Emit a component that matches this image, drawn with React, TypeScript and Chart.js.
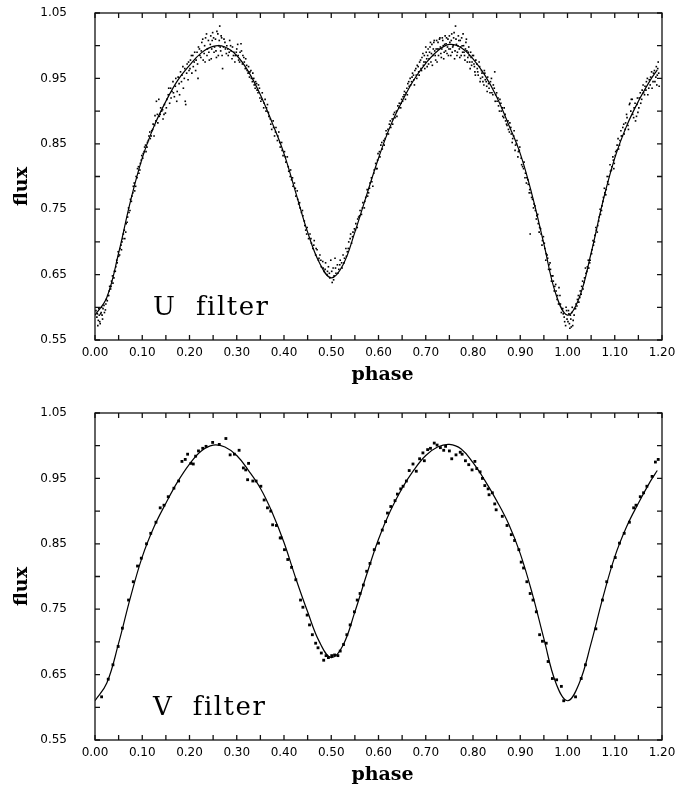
import React, { useEffect, useRef } from "react";
import { Chart, registerables } from "chart.js";

Chart.register(...registerables);

// ---------- axes ----------
const xLabelTicks = [0, 0.1, 0.2, 0.3, 0.4, 0.5, 0.6, 0.7, 0.8, 0.9, 1.0, 1.1, 1.2];
const yLabelTicks = [0.55, 0.65, 0.75, 0.85, 0.95, 1.05];
const xMarkTicks = [0, 0.05, 0.1, 0.15, 0.2, 0.25, 0.3, 0.35, 0.4, 0.45, 0.5, 0.55, 0.6, 0.65, 0.7, 0.75, 0.8, 0.85, 0.9, 0.95, 1.0, 1.05, 1.1, 1.15, 1.2];
const yMarkTicks = [0.55, 0.6, 0.65, 0.7, 0.75, 0.8, 0.85, 0.9, 0.95, 1.0, 1.05];

// ---------- fitted curves ----------
const curvePhase = [0.000, 0.025, 0.050, 0.075, 0.100, 0.125, 0.150, 0.175, 0.200, 0.225, 0.250, 0.275, 0.300, 0.325, 0.350, 0.375, 0.400, 0.425, 0.450, 0.475, 0.500, 0.525, 0.550, 0.575, 0.600, 0.625, 0.650, 0.675, 0.700, 0.725, 0.750, 0.775, 0.800, 0.825, 0.850, 0.875, 0.900, 0.925, 0.950, 0.975, 1.000, 1.025, 1.050, 1.075, 1.100, 1.125, 1.150, 1.175, 1.190];
const uCurve = [0.588, 0.615, 0.683, 0.762, 0.828, 0.877, 0.915, 0.947, 0.970, 0.989, 0.999, 0.998, 0.985, 0.960, 0.925, 0.882, 0.835, 0.775, 0.715, 0.668, 0.645, 0.665, 0.715, 0.772, 0.828, 0.877, 0.915, 0.948, 0.973, 0.992, 1.002, 0.997, 0.980, 0.955, 0.922, 0.880, 0.835, 0.772, 0.697, 0.621, 0.588, 0.615, 0.683, 0.762, 0.828, 0.877, 0.915, 0.947, 0.963];
const vCurve = [0.610, 0.637, 0.698, 0.768, 0.830, 0.876, 0.912, 0.945, 0.972, 0.992, 1.001, 0.998, 0.985, 0.962, 0.935, 0.898, 0.852, 0.797, 0.746, 0.700, 0.676, 0.695, 0.746, 0.803, 0.857, 0.900, 0.935, 0.963, 0.985, 0.998, 1.002, 0.995, 0.974, 0.947, 0.916, 0.881, 0.835, 0.775, 0.705, 0.638, 0.610, 0.637, 0.698, 0.768, 0.830, 0.876, 0.912, 0.945, 0.962];

// ---------- observations [phase, flux] ----------
const uObs = [
  [0.004, 0.585], [0.006, 0.572], [0.008, 0.598], [0.010, 0.578], [0.012, 0.590], [0.014, 0.600], [0.016, 0.582], [0.019, 0.603], [0.022, 0.596], [0.024, 0.612], [0.027, 0.618], [0.030, 0.625], [0.033, 0.628], [0.035, 0.640], [0.038, 0.637], [0.041, 0.655], [0.044, 0.662], [0.047, 0.668], [0.049, 0.685],
  [0.052, 0.680], [0.055, 0.695], [0.057, 0.700], [0.060, 0.712], [0.063, 0.705], [0.066, 0.728], [0.069, 0.738], [0.072, 0.745], [0.075, 0.765], [0.078, 0.770], [0.081, 0.785], [0.084, 0.778], [0.087, 0.800], [0.090, 0.812], [0.093, 0.805], [0.096, 0.820], [0.099, 0.832],
  [0.102, 0.835], [0.105, 0.845], [0.108, 0.838], [0.111, 0.852], [0.114, 0.862], [0.117, 0.858], [0.120, 0.870], [0.123, 0.880], [0.125, 0.862], [0.127, 0.893], [0.130, 0.915], [0.133, 0.882], [0.135, 0.918], [0.138, 0.895], [0.141, 0.900], [0.144, 0.888], [0.147, 0.910], [0.149, 0.897],
  [0.152, 0.918], [0.155, 0.925], [0.158, 0.912], [0.160, 0.935], [0.163, 0.930], [0.165, 0.945], [0.168, 0.922], [0.170, 0.938], [0.173, 0.915], [0.176, 0.952], [0.178, 0.942], [0.181, 0.960], [0.184, 0.955], [0.187, 0.935], [0.190, 0.965], [0.192, 0.910], [0.195, 0.972], [0.197, 0.948], [0.199, 0.962],
  [0.202, 0.978], [0.205, 0.958], [0.207, 0.985], [0.210, 0.975], [0.213, 0.962], [0.216, 0.990], [0.218, 0.950], [0.221, 0.995], [0.224, 0.982], [0.226, 1.005], [0.229, 0.978], [0.232, 1.000], [0.234, 1.012], [0.237, 0.985], [0.240, 1.008], [0.242, 0.978], [0.245, 1.015], [0.247, 0.995], [0.249, 1.020],
  [0.252, 0.990], [0.255, 1.010], [0.257, 0.982], [0.260, 1.018], [0.262, 1.000], [0.264, 1.030], [0.266, 0.992], [0.268, 1.012], [0.270, 0.965], [0.272, 0.998], [0.275, 1.005], [0.278, 0.988], [0.281, 0.995], [0.284, 0.990], [0.287, 1.000], [0.290, 0.980], [0.293, 0.985], [0.296, 0.975], [0.299, 0.990],
  [0.302, 1.002], [0.304, 0.978], [0.307, 0.990], [0.309, 1.003], [0.312, 0.972], [0.315, 0.982], [0.318, 0.965], [0.321, 0.970], [0.324, 0.958], [0.327, 0.952], [0.330, 0.962], [0.333, 0.945], [0.336, 0.950], [0.339, 0.935], [0.342, 0.942], [0.345, 0.928], [0.348, 0.935],
  [0.351, 0.915], [0.354, 0.928], [0.357, 0.905], [0.360, 0.918], [0.362, 0.900], [0.365, 0.910], [0.368, 0.892], [0.371, 0.888], [0.374, 0.872], [0.377, 0.885], [0.380, 0.862], [0.383, 0.875], [0.386, 0.855], [0.389, 0.868], [0.392, 0.845], [0.395, 0.852], [0.398, 0.832],
  [0.401, 0.838], [0.404, 0.822], [0.407, 0.830], [0.410, 0.808], [0.413, 0.800], [0.416, 0.795], [0.419, 0.785], [0.422, 0.790], [0.425, 0.770], [0.428, 0.778], [0.431, 0.758], [0.434, 0.752], [0.437, 0.745], [0.440, 0.740], [0.443, 0.732], [0.446, 0.718], [0.449, 0.722],
  [0.452, 0.705], [0.455, 0.712], [0.458, 0.698], [0.461, 0.690], [0.464, 0.702], [0.467, 0.680], [0.470, 0.688], [0.473, 0.672], [0.476, 0.680], [0.479, 0.662], [0.482, 0.670], [0.485, 0.655], [0.488, 0.668], [0.491, 0.650], [0.494, 0.662], [0.497, 0.645], [0.499, 0.672],
  [0.502, 0.638], [0.504, 0.660], [0.506, 0.648], [0.508, 0.675], [0.510, 0.652], [0.513, 0.665], [0.516, 0.658], [0.519, 0.672], [0.522, 0.668], [0.525, 0.680], [0.528, 0.675], [0.531, 0.690], [0.534, 0.685], [0.537, 0.700], [0.540, 0.705], [0.543, 0.698], [0.546, 0.715], [0.549, 0.720],
  [0.552, 0.728], [0.555, 0.722], [0.558, 0.738], [0.561, 0.748], [0.564, 0.742], [0.567, 0.760], [0.570, 0.752], [0.573, 0.768], [0.576, 0.780], [0.579, 0.775], [0.582, 0.790], [0.585, 0.798], [0.588, 0.785], [0.591, 0.810], [0.594, 0.820], [0.597, 0.812], [0.599, 0.835],
  [0.602, 0.838], [0.605, 0.848], [0.608, 0.842], [0.611, 0.855], [0.614, 0.858], [0.617, 0.865], [0.620, 0.872], [0.623, 0.880], [0.626, 0.875], [0.629, 0.888], [0.632, 0.895], [0.635, 0.890], [0.638, 0.900], [0.641, 0.908], [0.644, 0.912], [0.647, 0.905], [0.649, 0.918],
  [0.652, 0.922], [0.655, 0.930], [0.657, 0.918], [0.660, 0.935], [0.662, 0.942], [0.665, 0.938], [0.667, 0.950], [0.670, 0.945], [0.672, 0.958], [0.675, 0.948], [0.677, 0.962], [0.680, 0.955], [0.682, 0.970], [0.685, 0.960], [0.687, 0.975], [0.690, 0.965], [0.692, 0.982], [0.695, 0.970], [0.697, 0.985], [0.699, 0.975],
  [0.701, 0.990], [0.703, 0.968], [0.705, 0.995], [0.707, 0.980], [0.709, 0.998], [0.711, 0.975], [0.713, 1.002], [0.715, 0.985], [0.717, 1.005], [0.719, 0.992], [0.721, 0.978], [0.723, 1.008], [0.725, 0.995], [0.727, 0.985], [0.729, 1.010], [0.731, 0.998], [0.733, 0.982], [0.735, 1.012], [0.737, 1.000], [0.739, 0.990], [0.741, 1.015], [0.743, 1.003], [0.745, 0.988], [0.747, 1.010], [0.749, 0.995],
  [0.751, 1.005], [0.753, 0.985], [0.755, 1.018], [0.757, 0.998], [0.759, 1.012], [0.761, 0.980], [0.763, 1.030], [0.765, 1.002], [0.767, 0.990], [0.769, 1.015], [0.771, 0.995], [0.773, 1.008], [0.775, 0.985], [0.777, 1.000], [0.779, 1.018], [0.781, 0.990], [0.783, 0.978], [0.785, 1.005], [0.787, 0.992], [0.789, 0.982], [0.791, 0.998], [0.793, 0.975], [0.795, 0.990], [0.797, 0.970], [0.799, 0.985],
  [0.802, 0.972], [0.804, 0.960], [0.806, 0.978], [0.809, 0.965], [0.811, 0.955], [0.814, 0.968], [0.816, 0.950], [0.819, 0.958], [0.821, 0.945], [0.824, 0.962], [0.826, 0.948], [0.829, 0.938], [0.831, 0.952], [0.834, 0.935], [0.837, 0.945], [0.840, 0.928], [0.843, 0.940], [0.846, 0.960], [0.848, 0.925],
  [0.851, 0.915], [0.854, 0.908], [0.857, 0.918], [0.860, 0.900], [0.863, 0.892], [0.866, 0.905], [0.869, 0.885], [0.872, 0.878], [0.875, 0.872], [0.878, 0.882], [0.881, 0.865], [0.884, 0.858], [0.887, 0.870], [0.890, 0.848], [0.893, 0.855], [0.896, 0.838], [0.899, 0.845],
  [0.902, 0.828], [0.905, 0.815], [0.908, 0.822], [0.911, 0.805], [0.914, 0.798], [0.917, 0.788], [0.920, 0.780], [0.921, 0.712], [0.923, 0.775], [0.926, 0.765], [0.929, 0.758], [0.932, 0.748], [0.935, 0.740], [0.938, 0.728], [0.941, 0.722], [0.944, 0.712], [0.947, 0.702], [0.949, 0.708],
  [0.952, 0.690], [0.955, 0.682], [0.958, 0.675], [0.961, 0.665], [0.964, 0.658], [0.967, 0.648], [0.970, 0.640], [0.973, 0.632], [0.976, 0.625], [0.979, 0.618], [0.982, 0.630], [0.985, 0.605], [0.988, 0.598], [0.991, 0.590], [0.994, 0.578], [0.997, 0.600], [0.999, 0.582],
  [1.002, 0.595], [1.004, 0.575], [1.006, 0.588], [1.008, 0.570], [1.010, 0.600], [1.012, 0.580], [1.015, 0.598], [1.018, 0.605], [1.021, 0.612], [1.024, 0.608], [1.027, 0.625], [1.030, 0.632], [1.033, 0.628], [1.036, 0.645], [1.039, 0.652], [1.042, 0.662], [1.045, 0.660], [1.048, 0.672],
  [1.052, 0.688], [1.055, 0.695], [1.058, 0.710], [1.061, 0.718], [1.064, 0.725], [1.067, 0.738], [1.070, 0.742], [1.073, 0.755], [1.076, 0.768], [1.079, 0.775], [1.082, 0.780], [1.085, 0.792], [1.088, 0.800], [1.091, 0.808], [1.094, 0.815], [1.097, 0.825], [1.099, 0.820],
  [1.102, 0.838], [1.105, 0.848], [1.108, 0.842], [1.111, 0.855], [1.114, 0.862], [1.117, 0.875], [1.120, 0.865], [1.123, 0.882], [1.126, 0.890], [1.129, 0.872], [1.132, 0.912], [1.135, 0.918], [1.138, 0.895], [1.141, 0.905], [1.144, 0.885], [1.147, 0.910], [1.149, 0.898],
  [1.152, 0.920], [1.155, 0.912], [1.158, 0.932], [1.161, 0.928], [1.164, 0.938], [1.167, 0.945], [1.170, 0.925], [1.173, 0.948], [1.176, 0.952], [1.179, 0.935], [1.182, 0.958], [1.185, 0.945], [1.188, 0.968], [1.190, 0.955], [1.192, 0.975], [1.194, 0.938],
  // second night
  [0.002, 0.595], [0.005, 0.590], [0.007, 0.580], [0.009, 0.588], [0.011, 0.575], [0.013, 0.592], [0.015, 0.588], [0.017, 0.598], [0.020, 0.592], [0.023, 0.605], [0.026, 0.610], [0.029, 0.618], [0.031, 0.632], [0.034, 0.632], [0.037, 0.648], [0.040, 0.645], [0.043, 0.655], [0.046, 0.672], [0.050, 0.678], [0.053, 0.690], [0.056, 0.688], [0.059, 0.705], [0.062, 0.718], [0.065, 0.715], [0.068, 0.730], [0.071, 0.752], [0.074, 0.748], [0.077, 0.762], [0.080, 0.775], [0.083, 0.790], [0.086, 0.785], [0.089, 0.798], [0.092, 0.815], [0.095, 0.810], [0.098, 0.825],
  [0.101, 0.828], [0.104, 0.838], [0.107, 0.848], [0.110, 0.845], [0.113, 0.855], [0.116, 0.868], [0.119, 0.862], [0.122, 0.872], [0.126, 0.878], [0.129, 0.885], [0.132, 0.895], [0.136, 0.892], [0.139, 0.905], [0.143, 0.902], [0.146, 0.895],
  [0.151, 0.905], [0.156, 0.935], [0.161, 0.920], [0.166, 0.928], [0.171, 0.950], [0.174, 0.930], [0.179, 0.925], [0.183, 0.945], [0.186, 0.968], [0.189, 0.950], [0.191, 0.915], [0.194, 0.958], [0.198, 0.975], [0.201, 0.965], [0.204, 0.985], [0.208, 0.968], [0.211, 0.990], [0.214, 0.978], [0.217, 0.972], [0.219, 0.998], [0.222, 0.985], [0.225, 0.992], [0.228, 1.010], [0.231, 0.988], [0.233, 0.975], [0.236, 1.018], [0.238, 0.995], [0.241, 0.990], [0.244, 1.002], [0.246, 0.980], [0.248, 1.008],
  [0.251, 1.012], [0.253, 0.998], [0.256, 0.992], [0.258, 1.022], [0.261, 0.985], [0.263, 1.008], [0.265, 0.998], [0.267, 1.015], [0.269, 0.985], [0.273, 1.010], [0.276, 0.995], [0.279, 1.000], [0.282, 0.985], [0.285, 1.008], [0.288, 0.992], [0.291, 0.998], [0.294, 0.990], [0.297, 0.985], [0.300, 0.995], [0.303, 0.985], [0.306, 0.975], [0.310, 0.992], [0.313, 0.985], [0.316, 0.975], [0.319, 0.980], [0.322, 0.962], [0.325, 0.968], [0.328, 0.960], [0.331, 0.950], [0.334, 0.958], [0.337, 0.940], [0.340, 0.945], [0.343, 0.932], [0.346, 0.940], [0.349, 0.920],
  [0.353, 0.918], [0.358, 0.912], [0.363, 0.905], [0.367, 0.898], [0.372, 0.880], [0.378, 0.875], [0.382, 0.868], [0.387, 0.862], [0.391, 0.852], [0.396, 0.840], [0.403, 0.830], [0.409, 0.815], [0.414, 0.810], [0.418, 0.798], [0.424, 0.782], [0.429, 0.765], [0.433, 0.760], [0.439, 0.748], [0.444, 0.725], [0.448, 0.712], [0.457, 0.705], [0.463, 0.695], [0.468, 0.690], [0.474, 0.675], [0.478, 0.672], [0.483, 0.660], [0.487, 0.658], [0.492, 0.655], [0.496, 0.652],
  [0.501, 0.655], [0.505, 0.642], [0.509, 0.660], [0.514, 0.652], [0.518, 0.665], [0.523, 0.660], [0.527, 0.668], [0.532, 0.678], [0.536, 0.690], [0.541, 0.712], [0.545, 0.708], [0.551, 0.718], [0.556, 0.735], [0.560, 0.740], [0.566, 0.752], [0.571, 0.762], [0.577, 0.770], [0.581, 0.782], [0.586, 0.792], [0.590, 0.805], [0.595, 0.812], [0.598, 0.825],
  [0.603, 0.830], [0.607, 0.852], [0.612, 0.848], [0.616, 0.870], [0.621, 0.865], [0.625, 0.885], [0.630, 0.880], [0.634, 0.898], [0.639, 0.892], [0.643, 0.905], [0.648, 0.912], [0.651, 0.915], [0.654, 0.925], [0.658, 0.928], [0.661, 0.925], [0.664, 0.945], [0.668, 0.940], [0.671, 0.952], [0.674, 0.955], [0.676, 0.940], [0.679, 0.965], [0.681, 0.950], [0.684, 0.968], [0.686, 0.955], [0.689, 0.978], [0.691, 0.962], [0.694, 0.988], [0.696, 0.975], [0.698, 0.965],
  [0.700, 0.998], [0.702, 0.980], [0.704, 0.985], [0.706, 0.972], [0.708, 0.990], [0.710, 1.005], [0.712, 0.988], [0.714, 0.970], [0.716, 0.995], [0.718, 1.008], [0.720, 0.985], [0.722, 0.995], [0.724, 0.975], [0.726, 1.005], [0.728, 0.995], [0.730, 1.012], [0.732, 0.988], [0.734, 0.995], [0.736, 1.008], [0.738, 0.980], [0.740, 1.002], [0.742, 0.992], [0.744, 1.012], [0.746, 0.998], [0.748, 0.985],
  [0.750, 1.015], [0.752, 0.995], [0.754, 1.008], [0.756, 0.990], [0.758, 1.000], [0.760, 1.020], [0.762, 0.992], [0.764, 1.010], [0.766, 0.985], [0.768, 1.000], [0.770, 1.008], [0.772, 0.982], [0.774, 0.998], [0.776, 1.012], [0.778, 0.990], [0.780, 1.000], [0.782, 0.985], [0.784, 0.995], [0.786, 1.010], [0.788, 0.975], [0.790, 0.990], [0.792, 0.985], [0.794, 0.965], [0.796, 0.982], [0.798, 0.975],
  [0.801, 0.985], [0.803, 0.968], [0.805, 0.955], [0.808, 0.972], [0.810, 0.960], [0.813, 0.975], [0.815, 0.945], [0.818, 0.962], [0.820, 0.952], [0.823, 0.940], [0.825, 0.958], [0.828, 0.945], [0.830, 0.930], [0.833, 0.942], [0.836, 0.928], [0.839, 0.950], [0.842, 0.925], [0.845, 0.935], [0.847, 0.915],
  [0.850, 0.928], [0.853, 0.920], [0.856, 0.900], [0.859, 0.912], [0.862, 0.905], [0.865, 0.890], [0.868, 0.895], [0.871, 0.880], [0.874, 0.885], [0.877, 0.868], [0.880, 0.875], [0.883, 0.852], [0.886, 0.862], [0.889, 0.840], [0.892, 0.850], [0.895, 0.830], [0.898, 0.840],
  [0.903, 0.818], [0.907, 0.812], [0.910, 0.798], [0.913, 0.790], [0.916, 0.795], [0.919, 0.775], [0.924, 0.768], [0.928, 0.752], [0.931, 0.755], [0.934, 0.735], [0.937, 0.742], [0.940, 0.715], [0.943, 0.720], [0.946, 0.695], [0.951, 0.698], [0.954, 0.672], [0.957, 0.680], [0.960, 0.658], [0.963, 0.668], [0.966, 0.640], [0.969, 0.648], [0.972, 0.625], [0.975, 0.635], [0.978, 0.612], [0.981, 0.605], [0.984, 0.618], [0.987, 0.592], [0.990, 0.598], [0.993, 0.585], [0.996, 0.572], [0.998, 0.595],
  [1.001, 0.578], [1.003, 0.590], [1.005, 0.568], [1.007, 0.582], [1.009, 0.592], [1.011, 0.572], [1.014, 0.588], [1.017, 0.598], [1.020, 0.602], [1.023, 0.618], [1.026, 0.615], [1.029, 0.620], [1.032, 0.640], [1.035, 0.638], [1.038, 0.660], [1.041, 0.655], [1.044, 0.672], [1.047, 0.668],
  [1.051, 0.682], [1.054, 0.702], [1.057, 0.700], [1.060, 0.722], [1.063, 0.715], [1.066, 0.732], [1.069, 0.750], [1.072, 0.748], [1.075, 0.762], [1.078, 0.782], [1.081, 0.772], [1.084, 0.800], [1.087, 0.788], [1.090, 0.818], [1.093, 0.810], [1.096, 0.830], [1.098, 0.812],
  [1.101, 0.832], [1.104, 0.840], [1.107, 0.858], [1.110, 0.848], [1.113, 0.870], [1.116, 0.862], [1.119, 0.880], [1.122, 0.872], [1.125, 0.895], [1.128, 0.878], [1.131, 0.910], [1.134, 0.900], [1.137, 0.918], [1.140, 0.890], [1.143, 0.912], [1.146, 0.892], [1.148, 0.920],
  [1.151, 0.905], [1.154, 0.928], [1.157, 0.918], [1.160, 0.940], [1.163, 0.925], [1.166, 0.932], [1.169, 0.950], [1.172, 0.935], [1.175, 0.940], [1.178, 0.960], [1.181, 0.945], [1.184, 0.962], [1.187, 0.952], [1.189, 0.940], [1.191, 0.965], [1.193, 0.958],
];

const vObs = [
  [0.014, 0.616], [0.028, 0.643], [0.038, 0.665], [0.049, 0.693], [0.058, 0.721], [0.071, 0.764], [0.081, 0.792], [0.090, 0.816], [0.098, 0.828], [0.109, 0.850], [0.118, 0.866], [0.129, 0.883], [0.138, 0.905], [0.146, 0.909], [0.155, 0.922], [0.167, 0.935], [0.177, 0.946], [0.184, 0.976], [0.191, 0.979], [0.196, 0.987], [0.203, 0.973], [0.208, 0.972], [0.213, 0.984], [0.219, 0.992], [0.228, 0.996], [0.235, 0.999], [0.249, 1.005], [0.263, 1.002], [0.277, 1.011], [0.286, 0.986], [0.295, 0.987], [0.305, 0.993], [0.314, 0.966], [0.319, 0.963], [0.325, 0.973], [0.323, 0.948], [0.334, 0.946], [0.341, 0.946], [0.351, 0.938], [0.358, 0.917], [0.365, 0.905], [0.372, 0.900], [0.376, 0.879], [0.384, 0.878], [0.392, 0.859], [0.401, 0.841], [0.408, 0.826],
  [0.394, 0.859], [0.416, 0.814], [0.425, 0.795], [0.435, 0.764], [0.440, 0.753], [0.449, 0.741], [0.454, 0.726], [0.460, 0.711], [0.467, 0.698], [0.472, 0.691], [0.479, 0.683], [0.484, 0.672], [0.489, 0.679], [0.494, 0.676], [0.501, 0.679], [0.507, 0.680], [0.514, 0.679], [0.519, 0.686], [0.526, 0.696], [0.533, 0.711], [0.540, 0.726], [0.549, 0.746], [0.555, 0.764], [0.561, 0.774], [0.568, 0.787], [0.575, 0.808], [0.582, 0.820], [0.591, 0.841], [0.600, 0.851], [0.608, 0.871], [0.615, 0.884], [0.619, 0.897], [0.626, 0.907], [0.635, 0.916], [0.640, 0.926], [0.647, 0.934], [0.652, 0.938], [0.659, 0.946], [0.665, 0.962], [0.673, 0.972], [0.680, 0.961], [0.687, 0.980], [0.694, 0.989], [0.697, 0.977], [0.704, 0.994], [0.710, 0.996], [0.718, 1.004], [0.724, 1.001], [0.731, 0.997], [0.738, 0.993], [0.742, 0.999], [0.750, 0.992], [0.755, 0.980], [0.764, 0.986], [0.773, 0.990], [0.777, 0.987], [0.784, 0.977], [0.791, 0.971], [0.798, 0.963],
  [0.804, 0.976], [0.808, 0.965], [0.815, 0.960], [0.820, 0.950], [0.825, 0.939], [0.832, 0.934], [0.834, 0.925], [0.841, 0.928], [0.846, 0.911], [0.849, 0.902], [0.862, 0.892], [0.872, 0.878], [0.881, 0.864], [0.888, 0.855], [0.897, 0.841], [0.902, 0.822], [0.907, 0.813], [0.914, 0.792], [0.921, 0.774], [0.927, 0.764], [0.934, 0.746], [0.941, 0.711], [0.947, 0.701], [0.955, 0.698], [0.959, 0.670], [0.968, 0.644], [0.977, 0.642], [0.987, 0.632], [0.992, 0.610], [1.017, 0.616], [1.029, 0.644], [1.038, 0.665], [1.060, 0.720], [1.074, 0.764], [1.083, 0.792], [1.093, 0.815], [1.101, 0.829], [1.110, 0.851], [1.120, 0.866], [1.131, 0.883], [1.140, 0.905], [1.145, 0.909], [1.154, 0.922], [1.161, 0.928], [1.168, 0.938], [1.179, 0.953], [1.186, 0.975], [1.192, 0.979],
];

const TICK_LEN = 5;

const framePlugin = {
  id: "frameTicks",
  afterDatasetsDraw(chart: any, _args: any, opts: any) {
    const { ctx, chartArea, scales } = chart;
    const { left, right, top, bottom } = chartArea;
    const xs = scales.x;
    const ys = scales.y;
    ctx.save();
    ctx.strokeStyle = "#111";
    ctx.lineWidth = 1.3;
    ctx.strokeRect(left, top, right - left, bottom - top);
    ctx.beginPath();
    for (const v of xMarkTicks) {
      const px = xs.getPixelForValue(v);
      ctx.moveTo(px, bottom);
      ctx.lineTo(px, bottom - TICK_LEN);
      ctx.moveTo(px, top);
      ctx.lineTo(px, top + TICK_LEN);
    }
    for (const v of yMarkTicks) {
      const py = ys.getPixelForValue(v);
      ctx.moveTo(left, py);
      ctx.lineTo(left + TICK_LEN, py);
      ctx.moveTo(right, py);
      ctx.lineTo(right - TICK_LEN, py);
    }
    ctx.stroke();

    ctx.fillStyle = "#000";
    ctx.font = '26px "DejaVu Serif"';
    (ctx as any).letterSpacing = "1.5px";
    ctx.textAlign = "left";
    ctx.textBaseline = "alphabetic";
    ctx.fillText(opts.label, left + 58, bottom - 25);
    (ctx as any).letterSpacing = "0px";

    ctx.font = 'bold 19px "DejaVu Serif"';
    ctx.textAlign = "center";
    ctx.fillText("phase", (left + right) / 2 + 4, bottom + 40);

    ctx.translate(22, (top + bottom) / 2 + 10);
    ctx.rotate(-Math.PI / 2);
    ctx.textBaseline = "middle";
    ctx.fillText("flux", 0, 0);
    ctx.restore();
  },
};

function Panel(props: { top: number; obs: number[][]; curve: number[]; label: string; dot: number }) {
  const ref = useRef<HTMLCanvasElement | null>(null);
  useEffect(() => {
    if (!ref.current) return;
    const chart = new Chart(ref.current, {
      type: "scatter",
      data: {
        datasets: [
          {
            label: "fit",
            data: curvePhase.map((p, i) => ({ x: p, y: props.curve[i] })),
            showLine: true,
            borderColor: "#000",
            borderWidth: 1.2,
            pointRadius: 0,
            tension: 0.4,
            fill: false,
          } as any,
          {
            label: "obs",
            data: props.obs.map((d) => ({ x: d[0], y: d[1] })),
            pointStyle: "rect",
            pointRadius: props.dot,
            pointBorderWidth: 0,
            backgroundColor: "#000",
            borderColor: "#000",
            showLine: false,
          } as any,
        ],
      },
      options: {
        responsive: false,
        animation: false,
        layout: { padding: { left: 0, right: 29, top: 13, bottom: 0 } },
        plugins: {
          legend: { display: false },
          tooltip: { enabled: false },
          frameTicks: { label: props.label },
        } as any,
        scales: {
          x: {
            type: "linear",
            min: 0,
            max: 1.2,
            grid: { display: false, drawTicks: false, tickLength: 0 },
            border: { display: false },
            afterBuildTicks: (s: any) => {
              s.ticks = xLabelTicks.map((v) => ({ value: v }));
            },
            afterFit: (s: any) => {
              s.height = 45;
              s.paddingLeft = 0;
              s.paddingRight = 0;
            },
            ticks: {
              autoSkip: false,
              maxRotation: 0,
              padding: 6,
              color: "#000",
              font: { family: "DejaVu Sans", size: 12 },
              callback: (v: any) => Number(v).toFixed(2),
            },
          },
          y: {
            type: "linear",
            min: 0.55,
            max: 1.05,
            grid: { display: false, drawTicks: false, tickLength: 0 },
            border: { display: false },
            afterBuildTicks: (s: any) => {
              s.ticks = yLabelTicks.map((v) => ({ value: v }));
            },
            afterFit: (s: any) => {
              s.width = 95;
              s.paddingTop = 0;
              s.paddingBottom = 0;
            },
            ticks: {
              autoSkip: false,
              padding: 28,
              color: "#000",
              font: { family: "DejaVu Sans", size: 12 },
              callback: (v: any) => Number(v).toFixed(2),
            },
          },
        },
      },
      plugins: [framePlugin as any],
    });
    return () => chart.destroy();
  }, []);
  return (
    <div style={{ position: "absolute", left: 0, top: props.top, width: 691, height: 385 }}>
      <canvas ref={ref} width={691} height={385} style={{ display: "block" }} />
    </div>
  );
}

export default function App() {
  return (
    <div style={{ position: "absolute", left: 0, top: 0, width: 691, height: 785, background: "#fff" }}>
      <Panel top={0} obs={uObs} curve={uCurve} label="U  filter" dot={1.15} />
      <Panel top={400} obs={vObs} curve={vCurve} label="V  filter" dot={2} />
    </div>
  );
}
